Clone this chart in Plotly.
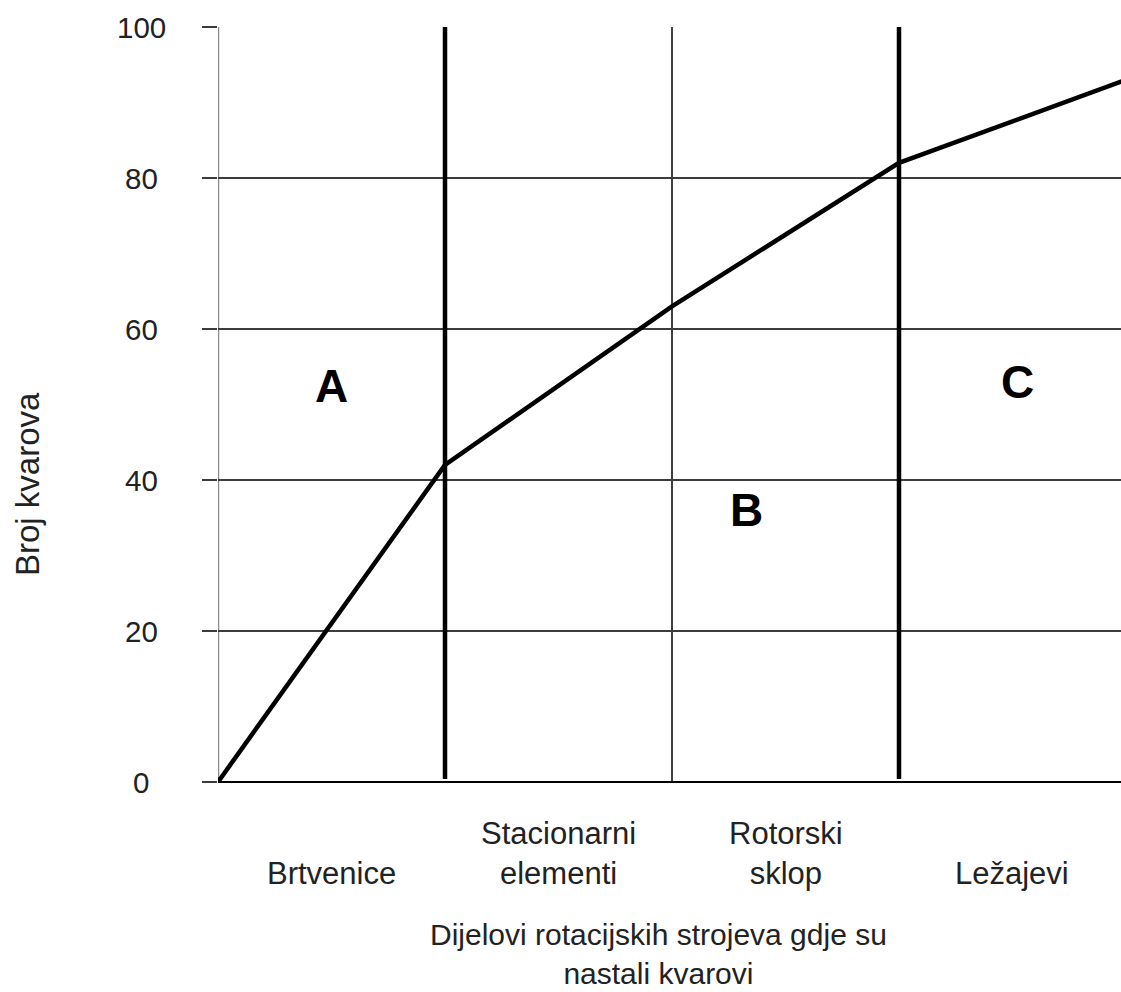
import plotly.graph_objects as go

# Cumulative number of failures at the boundaries between machine-part groups
boundary_pos = [0, 1, 2, 3, 4]
failures_cum = [0, 42, 63, 82, 93]

categories = ["Brtvenice", "Stacionarni<br>elementi", "Rotorski<br>sklop", "Ležajevi"]
category_pos = [0.5, 1.5, 2.5, 3.5]

y_ticks = [0, 20, 40, 60, 80, 100]

# Zone letters (A, B, C) and their positions
zone_labels = ["A", "B", "C"]
zone_x = [0.5, 2.33, 3.52]
zone_y = [52.5, 36, 53]

# Heavy dividers between the zones, light divider inside zone B
heavy_dividers = [1, 3]
light_dividers = [2]

x_title = "Dijelovi rotacijskih strojeva gdje su<br>nastali kvarovi"
y_title = "Broj kvarova"

FONT = "Liberation Sans, Arial, sans-serif"

fig = go.Figure()
fig.add_trace(go.Scatter(
    x=boundary_pos, y=failures_cum, mode="lines",
    line=dict(color="black", width=4.5),
    hoverinfo="skip", showlegend=False,
))

shapes = []
for xv in light_dividers:
    shapes.append(dict(type="line", xref="x", yref="y", x0=xv, x1=xv, y0=0, y1=100,
                       line=dict(color="black", width=1.5), layer="below"))
for xv in heavy_dividers:
    shapes.append(dict(type="line", xref="x", yref="y", x0=xv, x1=xv, y0=0.4, y1=100,
                       line=dict(color="black", width=4.5), layer="above"))
# vertical axis line, running a little below zero
shapes.append(dict(type="line", xref="x", yref="y", x0=0, x1=0, y0=-1.7, y1=100,
                   line=dict(color="#8a8a8a", width=2.5), layer="below"))

annotations = []
for v in y_ticks:
    annotations.append(dict(text=str(v), xref="paper", yref="y", x=(141 - 218) / 903, y=v,
                            xanchor="center", yanchor="middle", showarrow=False,
                            font=dict(family=FONT, size=29.5, color="#222")))
for lbl, xv in zip(categories, category_pos):
    annotations.append(dict(text=lbl, xref="x", yref="paper", x=xv, y=-0.147,
                            xanchor="center", yanchor="bottom", showarrow=False,
                            font=dict(family=FONT, size=31, color="#222")))
for lbl, xv, yv in zip(zone_labels, zone_x, zone_y):
    annotations.append(dict(text="<b>" + lbl + "</b>", xref="x", yref="y", x=xv, y=yv,
                            xanchor="center", yanchor="middle", showarrow=False,
                            font=dict(family=FONT, size=46, color="black")))
annotations.append(dict(text=x_title, xref="paper", yref="paper",
                        x=(658 - 218) / 903, y=(782 - 991) / 755,
                        xanchor="center", yanchor="bottom", showarrow=False, borderpad=0,
                        font=dict(family=FONT, size=30, color="#222")))
annotations.append(dict(text=y_title, textangle=-90,
                        xref="paper", yref="paper", x=(27 - 218) / 903, y=(782 - 484) / 755,
                        xanchor="center", yanchor="middle", showarrow=False,
                        font=dict(family=FONT, size=33, color="#222")))

fig.update_layout(
    width=1121, height=992,
    margin=dict(l=218, r=0, t=27, b=210),
    paper_bgcolor="white", plot_bgcolor="white",
    shapes=shapes, annotations=annotations,
    xaxis=dict(range=[0, 3.978], showgrid=False, zeroline=False, showticklabels=False,
               ticks="", showline=False, fixedrange=True),
    yaxis=dict(range=[0, 100], tickvals=y_ticks, showticklabels=False,
               showgrid=True, gridcolor="#3c3c3c", gridwidth=2,
               ticks="outside", ticklen=15, tickwidth=2, tickcolor="#3c3c3c",
               zeroline=True, zerolinecolor="black", zerolinewidth=2,
               showline=False, fixedrange=True),
)

fig.write_html("out.html")
